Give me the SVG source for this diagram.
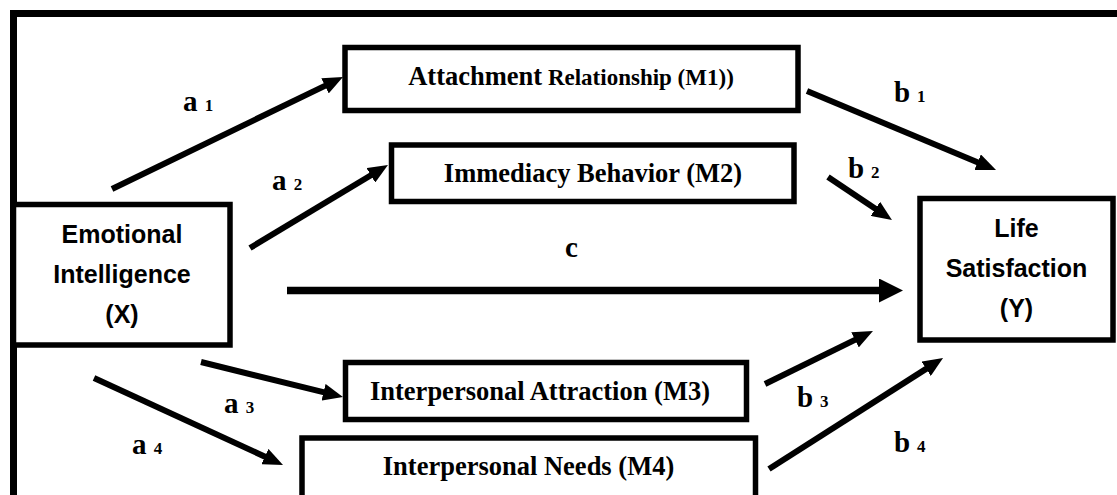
<svg xmlns="http://www.w3.org/2000/svg" width="1117" height="495" viewBox="0 0 1117 495">
<style>
.box{fill:#fff;stroke:#000;stroke-width:5.5}
.frame{fill:none;stroke:#000;stroke-width:7}
.main{font-family:"Liberation Sans",Arial,sans-serif;font-weight:bold;font-size:25px;text-anchor:middle;fill:#000}
.med{font-family:"Liberation Serif","Times New Roman",serif;font-weight:bold;font-size:26.5px;text-anchor:middle;fill:#000}
.lbl{font-family:"Liberation Serif","Times New Roman",serif;font-weight:bold;font-size:29px;fill:#000}
.sub{font-size:17px}
.arr{stroke:#000;stroke-width:6;fill:none}
.arrc{stroke:#000;stroke-width:7.5;fill:none}
</style>
<defs>
<marker id="ah" markerUnits="userSpaceOnUse" markerWidth="20" markerHeight="17" refX="5" refY="8.5" orient="auto">
<path d="M0,0 L20,8.5 L0,17 z" fill="#000"/>
</marker>
<marker id="ahc" markerUnits="userSpaceOnUse" markerWidth="24" markerHeight="24" refX="6" refY="12" orient="auto">
<path d="M0,0 L24,12 L0,24 z" fill="#000"/>
</marker>
</defs>
<rect class="frame" x="13.5" y="13.5" width="1200" height="600"/>
<g id="connectors">
<line class="arr" x1="112" y1="189" x2="329.5" y2="83.6" marker-end="url(#ah)"/>
<line class="arr" x1="250" y1="248" x2="375.1" y2="172.7" marker-end="url(#ah)"/>
<line class="arr" x1="201" y1="362" x2="328.4" y2="393.4" marker-end="url(#ah)"/>
<line class="arr" x1="94" y1="378" x2="269.4" y2="458.7" marker-end="url(#ah)"/>
<line class="arr" x1="807" y1="91" x2="982.2" y2="164.2" marker-end="url(#ah)"/>
<line class="arr" x1="828" y1="177" x2="879.5" y2="211.6" marker-end="url(#ah)"/>
<line class="arr" x1="765" y1="384" x2="859.5" y2="337.6" marker-end="url(#ah)"/>
<line class="arr" x1="769" y1="469" x2="930.4" y2="366.1" marker-end="url(#ah)"/>
<line class="arrc" x1="287" y1="290.5" x2="885" y2="290.5" marker-end="url(#ahc)"/>
</g>
<g id="labels">
<text class="lbl" x="183" y="111">a<tspan class="sub" dx="3"> 1</tspan></text>
<text class="lbl" x="272" y="190">a<tspan class="sub" dx="3"> 2</tspan></text>
<text class="lbl" x="224" y="413">a<tspan class="sub" dx="3"> 3</tspan></text>
<text class="lbl" x="132" y="454">a<tspan class="sub" dx="3"> 4</tspan></text>
<text class="lbl" x="894" y="102">b<tspan class="sub" dx="2.5"> 1</tspan></text>
<text class="lbl" x="848" y="178">b<tspan class="sub" dx="2.5"> 2</tspan></text>
<text class="lbl" x="797" y="407">b<tspan class="sub" dx="2.5"> 3</tspan></text>
<text class="lbl" x="894" y="452">b<tspan class="sub" dx="2.5"> 4</tspan></text>
<text class="lbl" x="565" y="257">c</text>
</g>
<g id="node-x">
<rect class="box" x="13.5" y="204.5" width="216.5" height="140.5"/>
<text class="main" x="122" y="243">Emotional</text>
<text class="main" x="122" y="283">Intelligence</text>
<text class="main" x="122" y="323">(X)</text>
</g>
<g id="node-y">
<rect class="box" x="920" y="198.5" width="193" height="141.5"/>
<text class="main" x="1016.5" y="237">Life</text>
<text class="main" x="1016.5" y="277">Satisfaction</text>
<text class="main" x="1016.5" y="317">(Y)</text>
</g>
<g id="node-m1">
<rect class="box" x="345" y="47.5" width="453" height="63"/>
<text class="med" x="571" y="85">Attachment<tspan font-size="23"> Relationship (M1))</tspan></text>
</g>
<g id="node-m2">
<rect class="box" x="391.5" y="145" width="402.5" height="56.5"/>
<text class="med" x="593" y="182">Immediacy Behavior (M2)</text>
</g>
<g id="node-m3">
<rect class="box" x="345.5" y="362.5" width="401" height="57"/>
<text class="med" x="540" y="400">Interpersonal Attraction (M3)</text>
</g>
<g id="node-m4">
<rect class="box" x="302" y="438" width="453.5" height="80"/>
<text class="med" x="528.5" y="475">Interpersonal Needs (M4)</text>
</g>
</svg>
